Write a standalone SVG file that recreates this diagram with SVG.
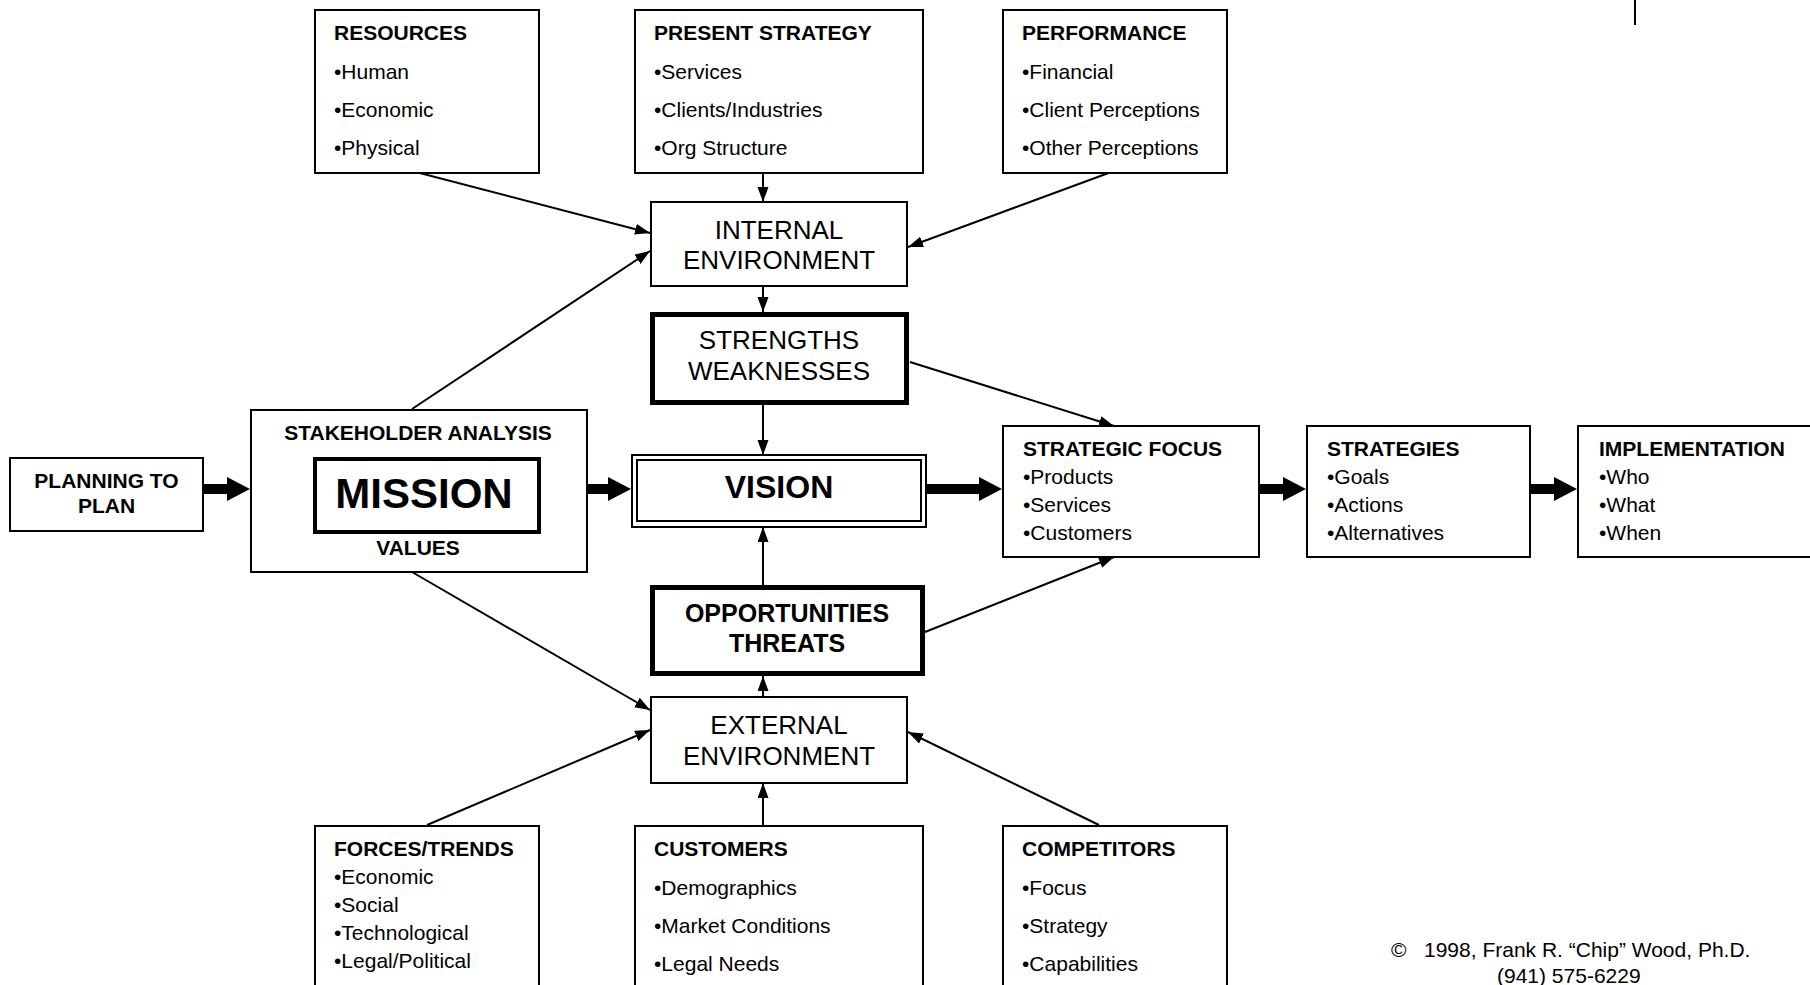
<svg xmlns="http://www.w3.org/2000/svg" width="1810" height="985" viewBox="0 0 1810 985">
  <style>
    .box { fill: #fff; stroke: #000; stroke-width: 2; }
    .heavy { fill: #fff; stroke: #000; stroke-width: 5; }
    .mid { fill: #fff; stroke: #000; stroke-width: 4; }
    .line { fill: none; stroke: #000; stroke-width: 2; }
    .fat { fill: #000; stroke: none; }
    text { font-family: "Liberation Sans", Arial, sans-serif; fill: #000; }
    .h { font-size: 21px; font-weight: bold; }
    .t { font-size: 21px; }
    .env { font-size: 26px; text-anchor: middle; }
    .envb { font-size: 25px; font-weight: bold; text-anchor: middle; }
    .c { text-anchor: middle; }
  </style>
  <defs>
    <marker id="tip" markerUnits="userSpaceOnUse" markerWidth="16" markerHeight="12" refX="15" refY="5.5" orient="auto">
      <path d="M0,0 L15,5.5 L0,11 z" fill="#000"/>
    </marker>
  </defs>

  <rect width="1810" height="985" fill="#fff"/>

  <!-- small rule at the top right -->
  <line x1="1635" y1="0" x2="1635" y2="25" class="line"/>

  <g id="connectors">
    <!-- vertical feeds -->
    <line x1="763" y1="173" x2="763" y2="202" class="line" marker-end="url(#tip)"/>
    <line x1="763" y1="286" x2="763" y2="312" class="line" marker-end="url(#tip)"/>
    <line x1="763" y1="405" x2="763" y2="455" class="line" marker-end="url(#tip)"/>
    <line x1="763" y1="585" x2="763" y2="527" class="line" marker-end="url(#tip)"/>
    <line x1="763" y1="697" x2="763" y2="676" class="line" marker-end="url(#tip)"/>
    <line x1="763" y1="826" x2="763" y2="783" class="line" marker-end="url(#tip)"/>
    <!-- diagonals into the environment boxes -->
    <line x1="412" y1="171" x2="650" y2="233" class="line" marker-end="url(#tip)"/>
    <line x1="412" y1="409" x2="650" y2="251" class="line" marker-end="url(#tip)"/>
    <line x1="1114" y1="171" x2="908" y2="247" class="line" marker-end="url(#tip)"/>
    <line x1="412" y1="572" x2="650" y2="710" class="line" marker-end="url(#tip)"/>
    <line x1="427" y1="825" x2="650" y2="730" class="line" marker-end="url(#tip)"/>
    <line x1="1099" y1="825" x2="908" y2="732" class="line" marker-end="url(#tip)"/>
    <!-- SWOT into strategic focus -->
    <line x1="910" y1="362" x2="1114" y2="426" class="line" marker-end="url(#tip)"/>
    <line x1="925" y1="632" x2="1114" y2="557" class="line" marker-end="url(#tip)"/>
    <!-- main flow: block arrows -->
    <polygon class="fat" points="203,484 227,484 227,477 250,489 227,501 227,494 203,494"/>
    <polygon class="fat" points="587,484 608,484 608,477 631,489 608,501 608,494 587,494"/>
    <polygon class="fat" points="926,484 979,484 979,477 1002,489 979,501 979,494 926,494"/>
    <polygon class="fat" points="1259,484 1283,484 1283,477 1306,489 1283,501 1283,494 1259,494"/>
    <polygon class="fat" points="1530,484 1554,484 1554,477 1577,489 1554,501 1554,494 1530,494"/>
  </g>

  <g id="resources">
    <rect x="315" y="10" width="224" height="163" class="box"/>
    <text x="334" y="40" class="h">RESOURCES</text>
    <text x="334" y="79" class="t">•Human</text>
    <text x="334" y="117" class="t">•Economic</text>
    <text x="334" y="155" class="t">•Physical</text>
  </g>

  <g id="present-strategy">
    <rect x="635" y="10" width="288" height="163" class="box"/>
    <text x="654" y="40" class="h">PRESENT STRATEGY</text>
    <text x="654" y="79" class="t">•Services</text>
    <text x="654" y="117" class="t">•Clients/Industries</text>
    <text x="654" y="155" class="t">•Org Structure</text>
  </g>

  <g id="performance">
    <rect x="1003" y="10" width="224" height="163" class="box"/>
    <text x="1022" y="40" class="h">PERFORMANCE</text>
    <text x="1022" y="79" class="t">•Financial</text>
    <text x="1022" y="117" class="t">•Client Perceptions</text>
    <text x="1022" y="155" class="t">•Other Perceptions</text>
  </g>

  <g id="internal-environment">
    <rect x="651" y="202" width="256" height="84" class="box"/>
    <text x="779" y="239" class="env">INTERNAL</text>
    <text x="779" y="269" class="env">ENVIRONMENT</text>
  </g>

  <g id="strengths-weaknesses">
    <rect x="652.5" y="314.5" width="254" height="88" class="heavy"/>
    <text x="779" y="349" class="env">STRENGTHS</text>
    <text x="779" y="380" class="env">WEAKNESSES</text>
  </g>

  <g id="planning">
    <rect x="10" y="458" width="193" height="73" class="box"/>
    <text x="106.5" y="488" class="h c">PLANNING TO</text>
    <text x="106.5" y="513" class="h c">PLAN</text>
  </g>

  <g id="stakeholder-analysis">
    <rect x="251" y="410" width="336" height="162" class="box"/>
    <text x="418" y="440" class="h c">STAKEHOLDER ANALYSIS</text>
    <rect x="315" y="459" width="224" height="73" class="mid"/>
    <text x="424" y="508" class="c" font-size="42" font-weight="bold">MISSION</text>
    <text x="418" y="555" class="h c">VALUES</text>
  </g>

  <g id="vision">
    <rect x="632" y="455" width="294" height="72" class="box"/>
    <rect x="637" y="460" width="284" height="61" class="box"/>
    <text x="779" y="498" class="c" font-size="32" font-weight="bold">VISION</text>
  </g>

  <g id="strategic-focus">
    <rect x="1003" y="426" width="256" height="131" class="box"/>
    <text x="1023" y="456" class="h">STRATEGIC FOCUS</text>
    <text x="1023" y="484" class="t">•Products</text>
    <text x="1023" y="512" class="t">•Services</text>
    <text x="1023" y="540" class="t">•Customers</text>
  </g>

  <g id="strategies">
    <rect x="1307" y="426" width="223" height="131" class="box"/>
    <text x="1327" y="456" class="h">STRATEGIES</text>
    <text x="1327" y="484" class="t">•Goals</text>
    <text x="1327" y="512" class="t">•Actions</text>
    <text x="1327" y="540" class="t">•Alternatives</text>
  </g>

  <g id="implementation">
    <rect x="1578" y="426" width="250" height="131" class="box"/>
    <text x="1599" y="456" class="h">IMPLEMENTATION</text>
    <text x="1599" y="484" class="t">•Who</text>
    <text x="1599" y="512" class="t">•What</text>
    <text x="1599" y="540" class="t">•When</text>
  </g>

  <g id="opportunities-threats">
    <rect x="652.5" y="587.5" width="270" height="86" class="heavy"/>
    <text x="787" y="622" class="envb">OPPORTUNITIES</text>
    <text x="787" y="652" class="envb">THREATS</text>
  </g>

  <g id="external-environment">
    <rect x="651" y="697" width="256" height="86" class="box"/>
    <text x="779" y="734" class="env">EXTERNAL</text>
    <text x="779" y="765" class="env">ENVIRONMENT</text>
  </g>

  <g id="forces-trends">
    <rect x="315" y="826" width="224" height="200" class="box"/>
    <text x="334" y="856" class="h">FORCES/TRENDS</text>
    <text x="334" y="884" class="t">•Economic</text>
    <text x="334" y="912" class="t">•Social</text>
    <text x="334" y="940" class="t">•Technological</text>
    <text x="334" y="968" class="t">•Legal/Political</text>
  </g>

  <g id="customers">
    <rect x="635" y="826" width="288" height="200" class="box"/>
    <text x="654" y="856" class="h">CUSTOMERS</text>
    <text x="654" y="895" class="t">•Demographics</text>
    <text x="654" y="933" class="t">•Market Conditions</text>
    <text x="654" y="971" class="t">•Legal Needs</text>
  </g>

  <g id="competitors">
    <rect x="1003" y="826" width="224" height="200" class="box"/>
    <text x="1022" y="856" class="h">COMPETITORS</text>
    <text x="1022" y="895" class="t">•Focus</text>
    <text x="1022" y="933" class="t">•Strategy</text>
    <text x="1022" y="971" class="t">•Capabilities</text>
  </g>

  <g id="credit">
    <text y="957" class="t"><tspan x="1391">©</tspan><tspan x="1424">1998, Frank R. “Chip” Wood, Ph.D.</tspan></text>
    <text x="1497" y="983" class="t">(941) 575-6229</text>
  </g>
</svg>
